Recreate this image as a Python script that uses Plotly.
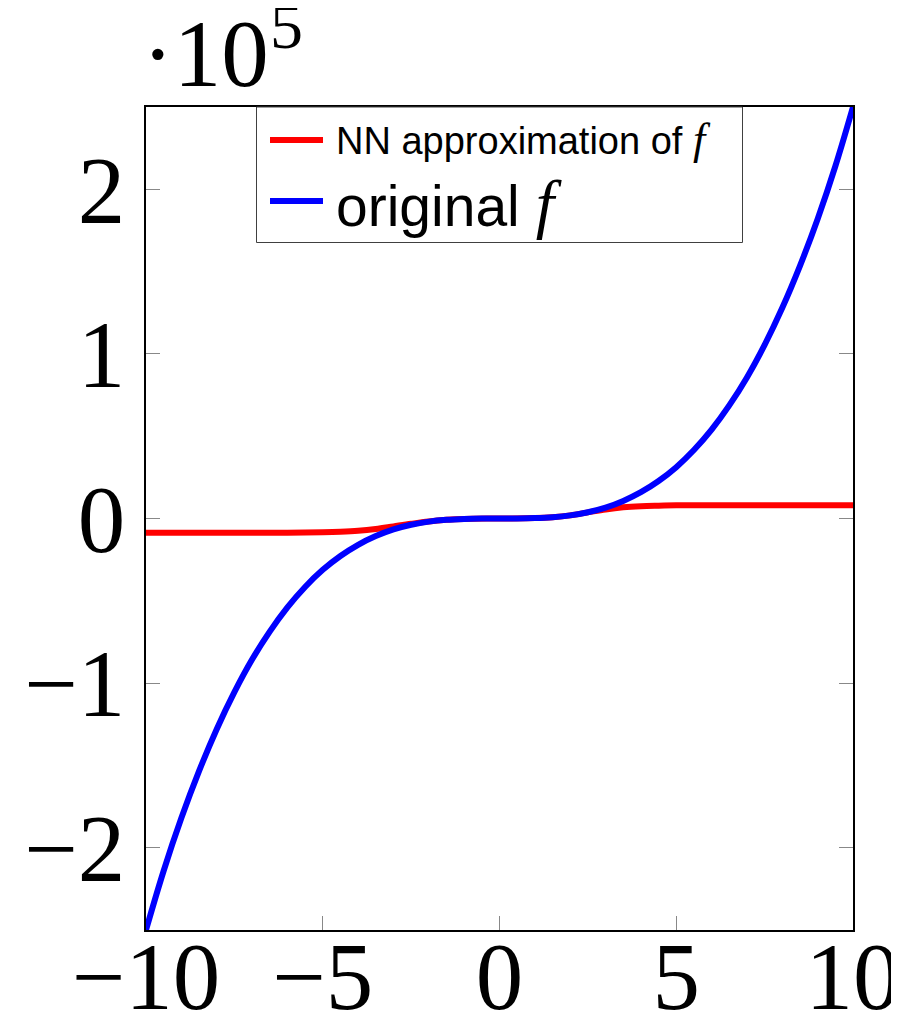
import plotly.graph_objects as go

# values (y in units of 10^5)
x_orig = [-10, -9.5, -9, -8.5, -8, -7.5, -7, -6.5, -6, -5.5, -5, -4.5, -4, -3.5, -3, -2.5, -2, -1.5, -1, -0.5,
          0, 0.5, 1, 1.5, 2, 2.5, 3, 3.5, 4, 4.5, 5, 5.5, 6, 6.5, 7, 7.5, 8, 8.5, 9, 9.5, 10]
y_orig = [-2.50, -2.14, -1.82, -1.535, -1.28, -1.055, -0.857, -0.687, -0.54, -0.416, -0.312, -0.228, -0.16,
          -0.107, -0.066, -0.038, -0.019, -0.008, -0.0025, -0.0003,
          0.0, 0.0003, 0.0025, 0.008, 0.019, 0.038, 0.066, 0.107, 0.16, 0.228, 0.312, 0.416, 0.54, 0.687,
          0.857, 1.055, 1.28, 1.535, 1.82, 2.14, 2.50]

x_nn = [-10, -8, -6, -5, -4.5, -4, -3.5, -3, -2.5, -2, -1.5, -1, 0, 1, 1.5, 2, 2.5, 3, 3.5, 4, 4.5, 5, 6, 8, 10]
y_nn = [-0.086, -0.086, -0.086, -0.084, -0.081, -0.075, -0.064, -0.048, -0.032, -0.018, -0.008, -0.0025, 0.0,
        0.0025, 0.008, 0.019, 0.037, 0.055, 0.068, 0.075, 0.078, 0.080, 0.081, 0.081, 0.081]

x_ticks = [-10, -5, 0, 5, 10]
x_ticktext = ["\u221210", "\u22125", "0", "5", "10"]
y_ticks = [-2, -1, 0, 1, 2]
y_ticktext = ["\u22122", "\u22121", "0", "1", "2"]

name_nn = "NN approximation of"
name_orig = "original"

# the page body adds an 8px offset; geometry below is given in page pixels
OFF = 8
W, H = 899, 1016
L, R, T, B = 146 - OFF, 853 - OFF, 107 - OFF, 930 - OFF


def px(xp):
    return (xp - OFF - L) / (R - L)


def py(yp):
    return (B - (yp - OFF)) / (B - T)


fig = go.Figure()
fig.add_trace(go.Scatter(x=x_nn, y=y_nn, mode="lines", name=name_nn + " f", showlegend=False,
                         line=dict(color="#ff0000", width=6, shape="spline")))
fig.add_trace(go.Scatter(x=x_orig, y=y_orig, mode="lines", name=name_orig + " f", showlegend=False,
                         line=dict(color="#0000ff", width=6, shape="spline")))

tickfont = dict(family="Liberation Serif", size=95, color="black")
fig.update_xaxes(range=[-10, 10], tickvals=x_ticks, ticktext=x_ticktext, ticks="inside", ticklen=14,
                 tickcolor="#888888", tickwidth=1, showline=True, linecolor="black", linewidth=1.5,
                 mirror="ticks", showgrid=False, zeroline=False, tickfont=tickfont, automargin=False,
                 ticklabeloverflow="allow", ticklabelstandoff=-37)
fig.update_yaxes(range=[-2.5, 2.5], tickvals=y_ticks, ticktext=y_ticktext, ticks="inside", ticklen=14,
                 tickcolor="#888888", tickwidth=1, showline=True, linecolor="black", linewidth=1.5,
                 mirror="ticks", showgrid=False, zeroline=False, tickfont=tickfont, automargin=False,
                 ticklabeloverflow="allow", ticklabelstandoff=0)

# exponent label  ·10^5
fig.add_annotation(text="\u00b710", xref="paper", yref="paper", x=0.0, y=1.0,
                   xanchor="left", yanchor="bottom", showarrow=False, xshift=-6, yshift=-2,
                   font=dict(family="Liberation Serif", size=95, color="black"))
fig.add_annotation(text="5", xref="paper", yref="paper", x=px(268), y=1.0,
                   xanchor="left", yanchor="bottom", showarrow=False, yshift=43,
                   font=dict(family="Liberation Serif", size=66, color="black"))

# legend box
fig.add_shape(type="rect", xref="paper", yref="paper", x0=px(256.5), x1=px(742.5), y0=py(242.5), y1=py(107),
              fillcolor="white", line=dict(color="#404040", width=1), layer="above")
fig.add_shape(type="line", xref="paper", yref="paper", x0=px(270), x1=px(323), y0=py(140), y1=py(140),
              line=dict(color="#ff0000", width=6), layer="above")
fig.add_shape(type="line", xref="paper", yref="paper", x0=px(270), x1=px(323), y0=py(201), y1=py(201),
              line=dict(color="#0000ff", width=6), layer="above")
fig.add_annotation(text=name_nn + " " + '<span style="font-family:\'Liberation Serif\';font-style:italic;font-size:44px">f</span>',
                   xref="paper", yref="paper", x=px(334), y=py(140), xanchor="left", yanchor="middle",
                   showarrow=False, font=dict(family="Liberation Sans", size=38, color="black"))
fig.add_annotation(text=name_orig + " " + '<span style="font-family:\'Liberation Serif\';font-style:italic;font-size:66px">f</span>',
                   xref="paper", yref="paper", x=px(334), y=py(204), xanchor="left", yanchor="middle",
                   showarrow=False, font=dict(family="Liberation Sans", size=57, color="black"))

fig.update_layout(
    width=W, height=H,
    margin=dict(l=L, r=W - R, t=T, b=H - B),
    plot_bgcolor="white", paper_bgcolor="white",
    showlegend=False,
)

fig.write_html("out.html")
